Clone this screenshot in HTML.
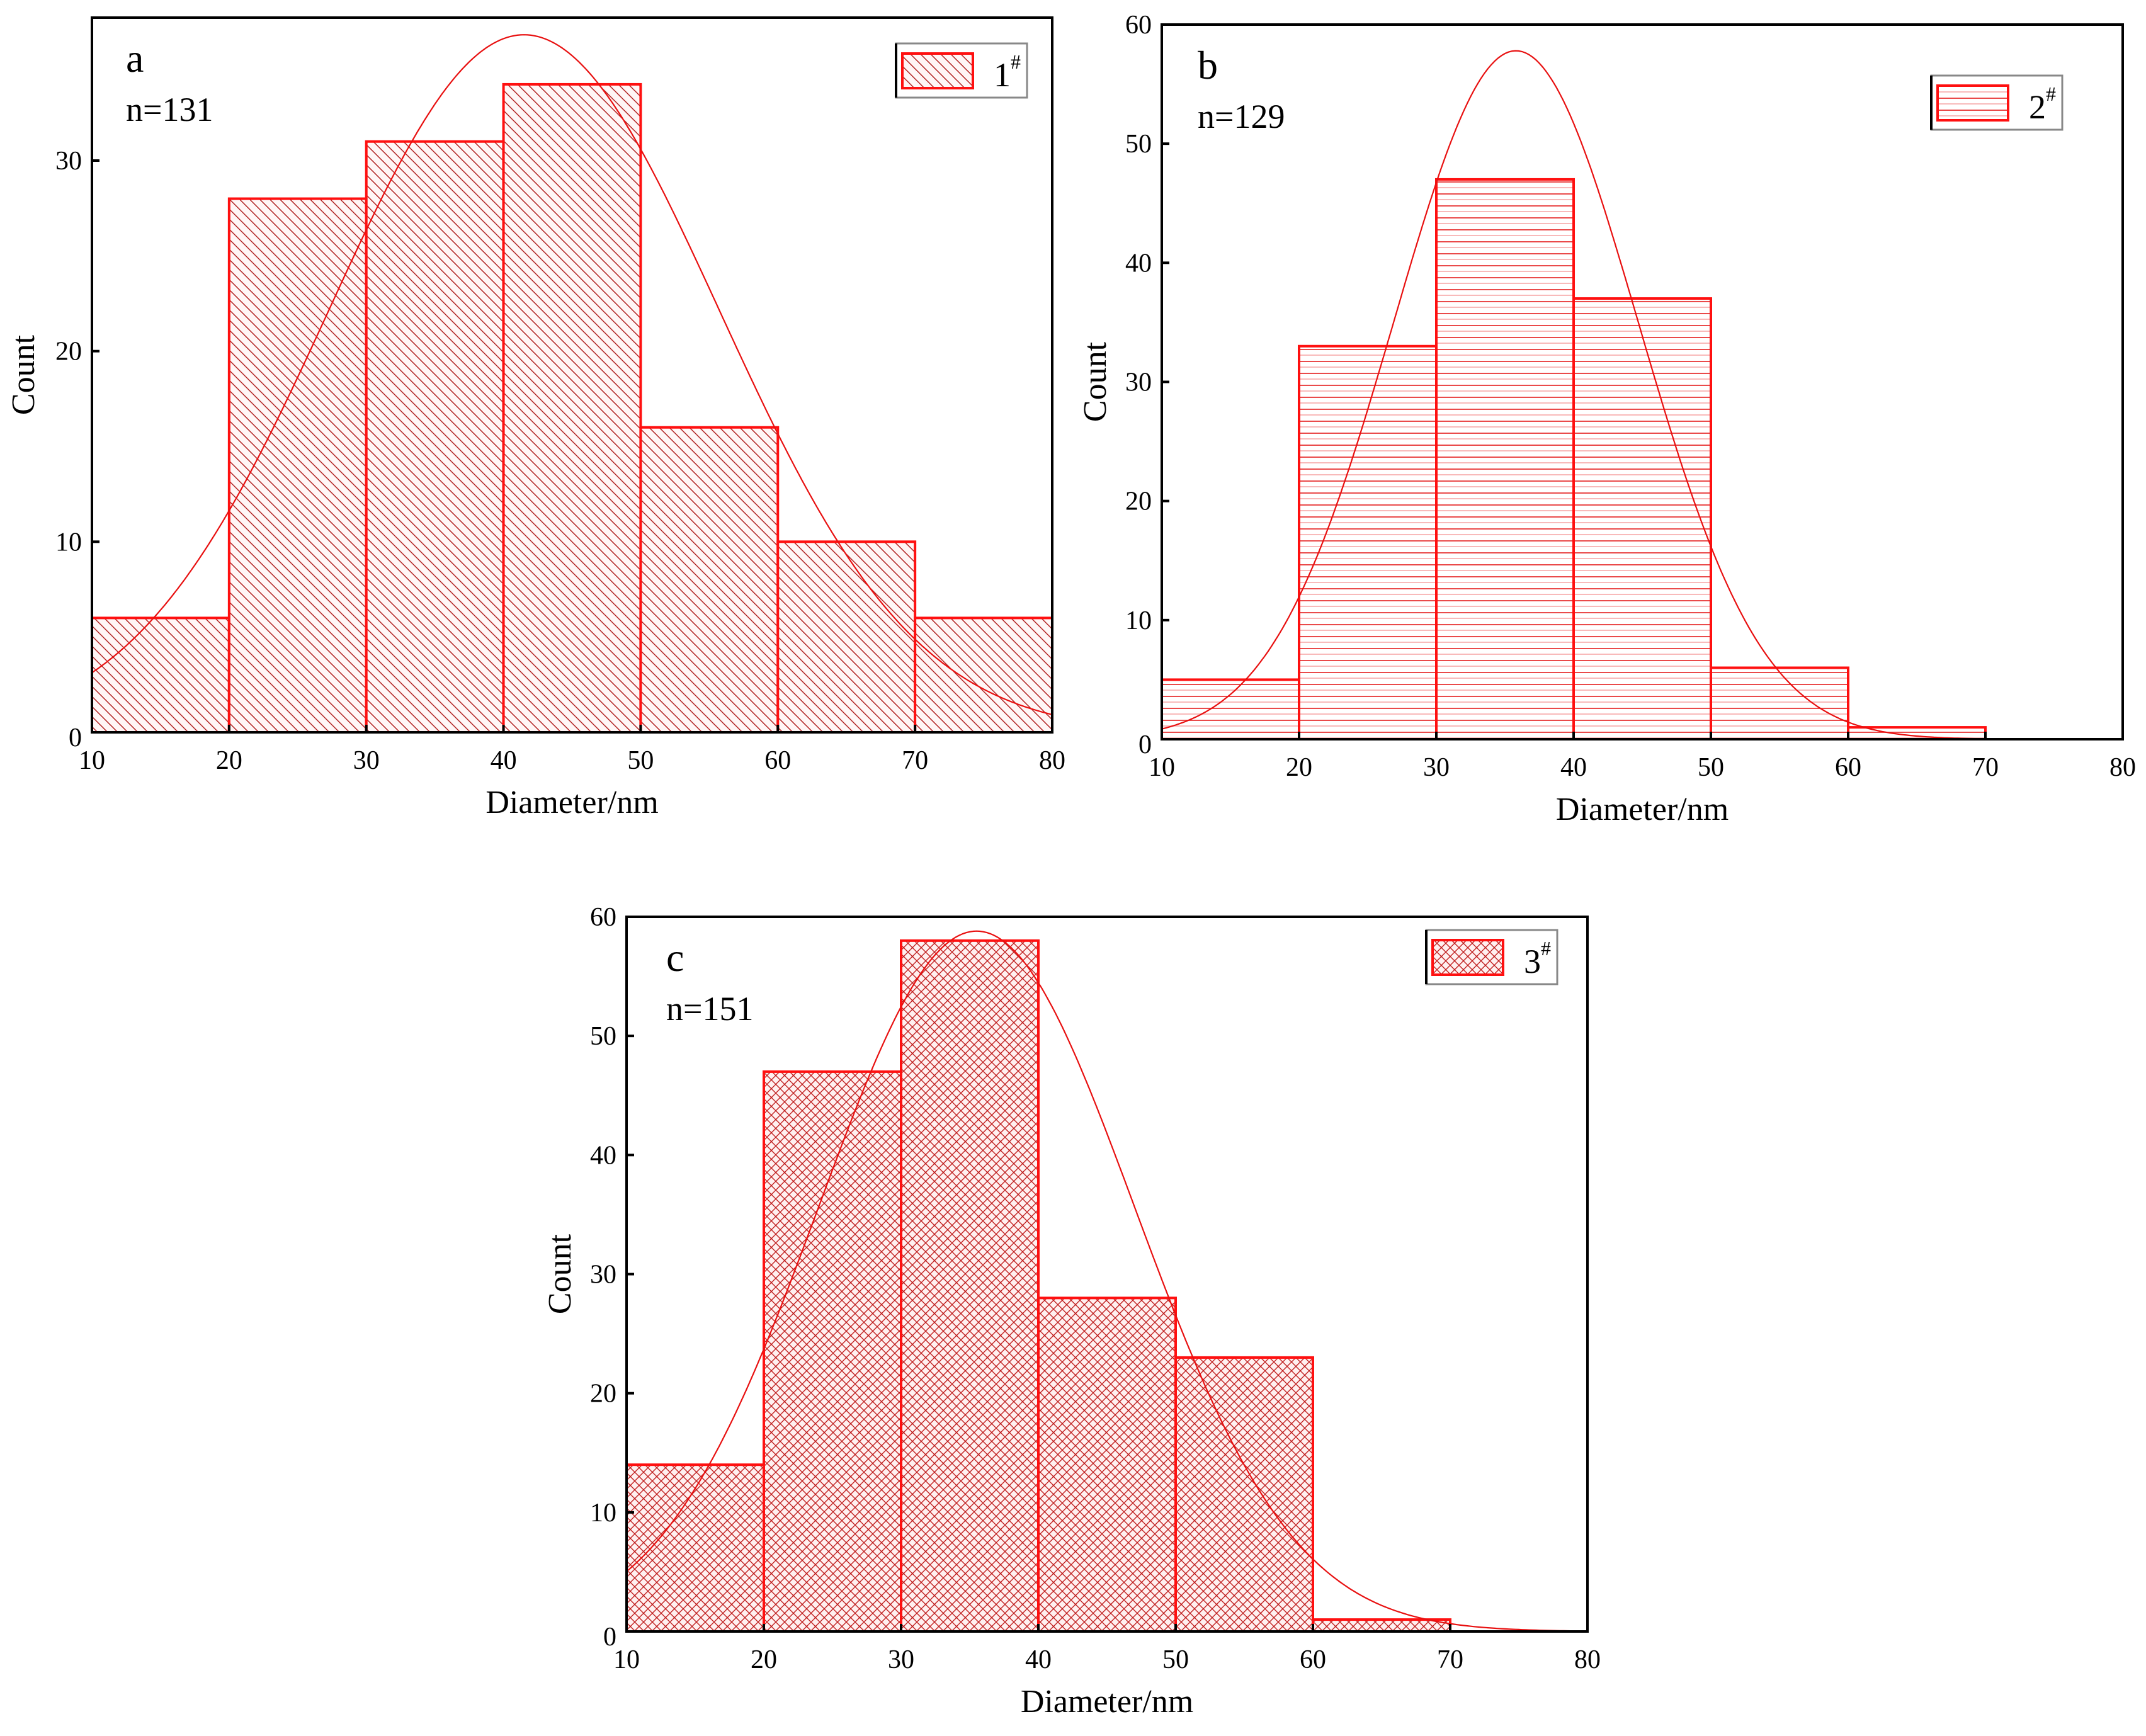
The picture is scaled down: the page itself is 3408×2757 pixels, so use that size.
<!DOCTYPE html>
<html><head><meta charset="utf-8"><style>
html,body{margin:0;padding:0;background:#fff;}
svg{display:block;}
text{font-family:"Liberation Serif",serif;fill:#000;}
</style></head><body>
<svg id="fig" width="3408" height="2757" viewBox="0 0 3408 2757">
<defs>
<pattern id="hatchA" patternUnits="userSpaceOnUse" width="16" height="16">
<rect width="16" height="16" fill="#fff6f6"/>
<path d="M-4,-4 L20,20 M-4,12 L4,20 M12,-4 L20,4" stroke="#b02020" stroke-width="1.5"/>
</pattern>
<pattern id="hatchB" patternUnits="userSpaceOnUse" width="20" height="19">
<rect width="20" height="19" fill="#fff"/>
<line x1="0" y1="4" x2="20" y2="4" stroke="#e83030" stroke-width="1.8"/>
<line x1="0" y1="13" x2="20" y2="13" stroke="#f8b0b0" stroke-width="1.8"/>
</pattern>
<pattern id="hatchC" patternUnits="userSpaceOnUse" width="14" height="14">
<rect width="14" height="14" fill="#fff0f0"/>
<path d="M-3,-3 L17,17 M-3,11 L3,17 M11,-3 L17,3 M-3,17 L17,-3 M-3,3 L3,-3 M11,17 L17,11" stroke="#c02020" stroke-width="1.4"/>
</pattern>
</defs>
<g id="panels"></g>
</svg>
<script>
const binStarts = [10,20,30,40,50,60,70];
const countsA = [6,28,31,34,16,10,6];
const countsB = [5,33,47,37,6,1,0];
const countsC = [14,47,58,28,23,1,0];
const fitA = [36.6,41.5,14.2];
const fitB = [57.8,35.8,8.9];
const fitC = [58.8,35.5,11.5];
const xTicks = [10,20,30,40,50,60,70,80];
const yTicksA = [0,10,20,30];
const yTicksB = [0,10,20,30,40,50,60];
const yTicksC = [0,10,20,30,40,50,60];

const NS='http://www.w3.org/2000/svg';
const root=document.getElementById('panels');
function mk(tag,attrs,parent){const e=document.createElementNS(NS,tag);for(const k in attrs)e.setAttribute(k,attrs[k]);(parent||root).appendChild(e);return e;}

function panel(cfg){
  const g=mk('g',{});
  
  
  const {x0,x1,y0,y1,ymax}=cfg;
  const X=v=>x0+(v-10)/70*(x1-x0);
  const Y=v=>y1-v/ymax*(y1-y0);
  cfg.counts.forEach((c,i)=>{
    if(c<=0)return;
    const r=mk('rect',{x:X(binStarts[i]),y:Y(c),width:X(binStarts[i]+10)-X(binStarts[i]),height:Y(0)-Y(c),fill:'url(#'+cfg.pat+')',stroke:'#ff1010','stroke-width':4},g);
    
    
  });
  const [A,mu,s]=cfg.fit;let d='';
  for(let k=0;k<=280;k++){const v=10+70*k/280;const yv=A*Math.exp(-((v-mu)**2)/(2*s*s));d+=(k?'L':'M')+X(v).toFixed(1)+','+Y(yv).toFixed(1);}
  const p=mk('path',{d:d,fill:'none',stroke:'#e81010','stroke-width':2.2},g);
  
  
  const f=mk('rect',{x:x0,y:y0,width:x1-x0,height:y1-y0,fill:'none',stroke:'#000','stroke-width':4},g);
  
  
  xTicks.forEach(t=>{
    mk('line',{x1:X(t),x2:X(t),y1:y1,y2:y1-12,stroke:'#000','stroke-width':4},g);
    const tx=mk('text',{x:X(t),y:y1+58,'font-size':42,'text-anchor':'middle'},g);
    tx.textContent=t;
    
    
  });
  cfg.yTicks.forEach(t=>{
    mk('line',{x1:x0,x2:x0+12,y1:Y(t),y2:Y(t),stroke:'#000','stroke-width':4},g);
    const tx=mk('text',{x:x0-16,y:Y(t)+14+(t===0?8:0),'font-size':42,'text-anchor':'end'},g);
    tx.textContent=t;
    
    
  });
  const xt=mk('text',{x:(x0+x1)/2,y:y1+128,'font-size':52,'text-anchor':'middle'},g);
  xt.textContent='Diameter/nm';
  
  
  const yc=(y0+y1)/2;
  const yt=mk('text',{x:cfg.ytx,y:yc,'font-size':52,'text-anchor':'middle',transform:'rotate(-90 '+cfg.ytx+' '+yc+')'},g);
  yt.textContent='Count';
  
  
  const lb=mk('text',{x:cfg.lbx,y:y0+86,'font-size':64},g);
  lb.textContent=cfg.id;
  
  
  const n=mk('text',{x:cfg.lbx,y:y0+164,'font-size':54},g);
  n.textContent=cfg.n;
  
  
  const [lx,ly,lw,lh]=cfg.leg;
  const lg=mk('g',{},g);
  
  
  mk('rect',{x:lx,y:ly,width:lw,height:lh,fill:'#fff',stroke:'#888','stroke-width':3},lg);
  mk('line',{x1:lx,y1:ly,x2:lx,y2:ly+lh,stroke:'#000','stroke-width':4},lg);
  mk('rect',{x:lx+10,y:ly+16,width:112,height:55,fill:'url(#'+cfg.pat+')',stroke:'#ff1010','stroke-width':4},lg);
  const lt=mk('text',{x:lx+155,y:ly+68,'font-size':54},lg);
  lt.textContent=cfg.legText;
  const sup=mk('tspan',{'font-size':32,dy:-28},lt);
  sup.textContent='#';
}
panel({id:'a',x0:146,x1:1671,y0:28,y1:1163,ymax:37.5,counts:countsA,fit:fitA,yTicks:yTicksA,pat:'hatchA',n:'n=131',ytx:54,lbx:200,leg:[1423,69,208,86],legText:'1'});
panel({id:'b',x0:1845,x1:3371,y0:39,y1:1174,ymax:60,counts:countsB,fit:fitB,yTicks:yTicksB,pat:'hatchB',n:'n=129',ytx:1756,lbx:1902,leg:[3067,120,208,86],legText:'2'});
panel({id:'c',x0:995,x1:2521,y0:1456,y1:2591,ymax:60,counts:countsC,fit:fitC,yTicks:yTicksC,pat:'hatchC',n:'n=151',ytx:906,lbx:1058,leg:[2265,1477,208,86],legText:'3'});
</script>
</body></html>
